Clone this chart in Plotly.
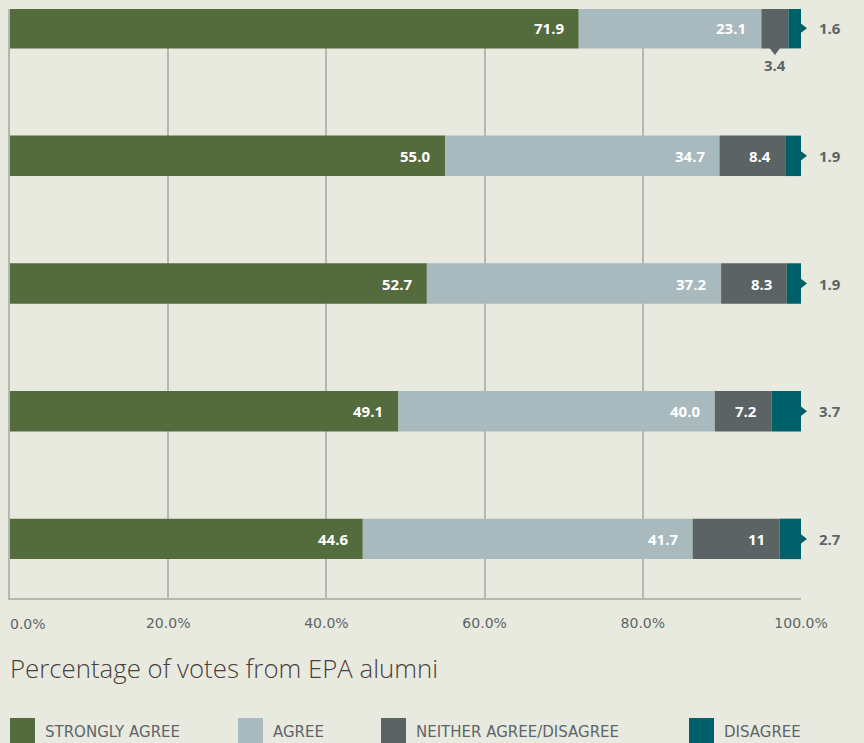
import plotly.graph_objects as go

# ---- data ----
series_names = ["STRONGLY AGREE", "AGREE", "NEITHER AGREE/DISAGREE", "DISAGREE"]
strongly_agree = [71.9, 55.0, 52.7, 49.1, 44.6]
agree = [23.1, 34.7, 37.2, 40.0, 41.7]
neither = [3.4, 8.4, 8.3, 7.2, 11]
disagree = [1.6, 1.9, 1.9, 3.7, 2.7]
x_ticks = [0, 20, 40, 60, 80, 100]
x_tick_labels = ["0.0%", "20.0%", "40.0%", "60.0%", "80.0%", "100.0%"]
axis_title = "Percentage of votes from EPA alumni"

# ---- style ----
colors = ["#546b3e", "#a8babd", "#5b6365", "#00606a"]
BG = "#e8eae0"
GRID = "#b5b8b0"
GREY = "#5d6568"
TITLE_C = "#4a403b"
FONT = "Open Sans"
WIDE = "DejaVu Sans"
W, H = 864, 743
ML, MR, MT, MB = 10, 63, 9, 145
PW, PH = W - ML - MR, H - MT - MB
XMAX = x_ticks[-1]

series = [strongly_agree, agree, neither, disagree]
rows = list(range(len(strongly_agree)))
bar_w = 0.317

def lab(v):
    return str(v)

fig = go.Figure()
bases = [0.0] * len(rows)
ends_all = []
for name, vals, col in zip(series_names, series, colors):
    fig.add_trace(go.Bar(
        y=rows, x=vals, base=bases, orientation="h", name=name,
        marker=dict(color=col, line=dict(width=0)), width=bar_w,
        showlegend=False, hoverinfo="skip",
    ))
    ends = [round(b + v, 6) for b, v in zip(bases, vals)]
    ends_all.append(ends)
    bases = ends

# visible bar ends (clipped to axis max)
vis_end = [[min(e, XMAX) for e in ends] for ends in ends_all]

annotations = []
# inside labels for first three series (except narrow neither in row 0)
for si in range(3):
    for r in rows:
        v = series[si][r]
        if si == 2 and v < 5:
            continue
        annotations.append(dict(
            x=vis_end[si][r], y=r, xref="x", yref="y", text=lab(v),
            xanchor="right", yanchor="middle", xshift=-13, showarrow=False,
            font=dict(family=FONT, size=15, color="white", weight=700)))

# narrow neither label below the bar
narrow = [r for r in rows if neither[r] < 5]
for r in narrow:
    cx = ends_all[1][r] + neither[r] / 2
    annotations.append(dict(
        x=cx, y=r, xref="x", yref="y", text=lab(neither[r]),
        xanchor="center", yanchor="middle", yshift=-37, showarrow=False,
        font=dict(family=FONT, size=15, color=GREY, weight=700)))
fig.add_trace(go.Scatter(
    x=[ends_all[1][r] + neither[r] / 2 for r in narrow],
    y=[r + bar_w / 2 for r in narrow], mode="markers",
    marker=dict(symbol="triangle-down", size=13, color=colors[2],
                line=dict(width=0)),
    cliponaxis=False, showlegend=False, hoverinfo="skip"))

# disagree outside labels + pointer triangles
fig.add_trace(go.Scatter(
    x=vis_end[3], y=rows, mode="markers",
    marker=dict(symbol="triangle-right", size=12, color=colors[3],
                line=dict(width=0)),
    cliponaxis=False, showlegend=False, hoverinfo="skip"))
for r in rows:
    annotations.append(dict(
        x=vis_end[3][r], y=r, xref="x", yref="y", text=lab(disagree[r]),
        xanchor="left", yanchor="middle", xshift=16, showarrow=False,
        font=dict(family=FONT, size=15, color=GREY, weight=700)))

# 0.0% tick label left-aligned
annotations.append(dict(
    x=x_ticks[0], y=0, xref="x", yref="paper", text=x_tick_labels[0],
    xanchor="left", yanchor="middle", yshift=-(624 - (MT + PH)), xshift=-2,
    showarrow=False, font=dict(family=WIDE, size=14, color=GREY)))

def py(pix):
    return (MT + PH - pix) / PH

def px(pix):
    return (pix - ML) / PW

# axis title
annotations.append(dict(
    x=0, y=py(668), xref="paper", yref="paper", text=axis_title,
    xanchor="left", yanchor="middle", showarrow=False, xshift=-2,
    font=dict(family=FONT, size=25.8, color=TITLE_C, weight=300)))

# manual legend
shapes = []
leg_x = [10, 238, 381, 689]
for name, col, lx in zip(series_names, colors, leg_x):
    shapes.append(dict(type="rect", xref="paper", yref="paper",
                       x0=px(lx), x1=px(lx + 25), y0=py(718), y1=py(750),
                       fillcolor=col, line=dict(width=0), layer="above"))
    annotations.append(dict(
        x=px(lx + 33), y=py(732), xref="paper", yref="paper", text=name,
        xanchor="left", yanchor="middle", showarrow=False,
        font=dict(family=WIDE, size=15, color=GREY)))

fig.update_layout(
    width=W, height=H, barmode="overlay",
    margin=dict(l=ML, r=MR, t=MT, b=MB, pad=0),
    paper_bgcolor=BG, plot_bgcolor=BG,
    annotations=annotations, shapes=shapes,
    xaxis=dict(range=[x_ticks[0], XMAX], tickvals=x_ticks,
               ticktext=[""] + x_tick_labels[1:],
               showgrid=True, gridcolor=GRID, gridwidth=1.5, zeroline=False,
               showline=True, linecolor=GRID, linewidth=2, ticks="",
               ticklabelstandoff=11,
               tickfont=dict(family=WIDE, size=14, color=GREY), fixedrange=True),
    yaxis=dict(range=[4.463, -0.15], showticklabels=False, showgrid=False,
               zeroline=False, showline=True, linecolor=GRID, linewidth=1.5,
               ticks="", fixedrange=True),
)

fig.write_html("out.html")
